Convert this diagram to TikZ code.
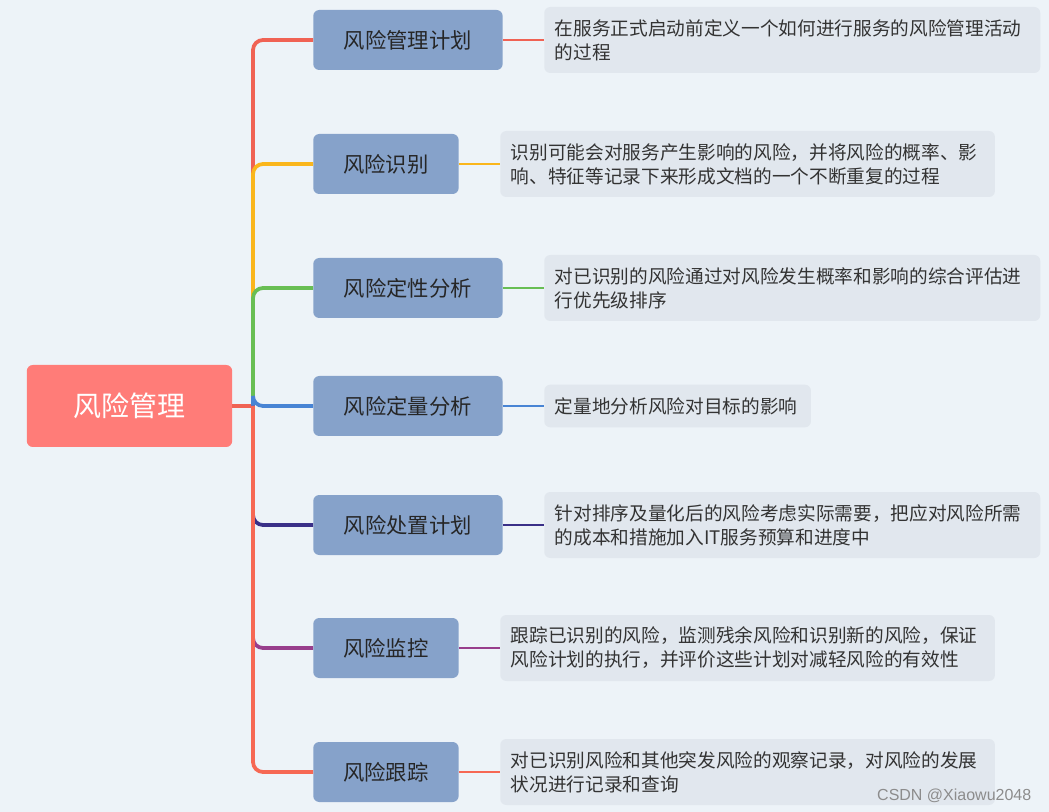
\documentclass[tikz,border=0pt]{standalone}
\usepackage{fontspec}
\setmainfont{Noto Sans CJK SC}
\setsansfont{Liberation Sans}
\usetikzlibrary{positioning}
\definecolor{BgBlue}{RGB}{237,243,248}
\definecolor{RootRed}{RGB}{255,124,120}
\definecolor{BoxBlue}{RGB}{134,162,202}
\definecolor{NoteGray}{RGB}{225,231,238}
\definecolor{LnRed}{RGB}{240,98,84}
\definecolor{LnOrange}{RGB}{250,182,28}
\definecolor{LnGreen}{RGB}{104,190,84}
\definecolor{LnBlue}{RGB}{72,132,212}
\definecolor{LnIndigo}{RGB}{58,48,136}
\definecolor{LnPurple}{RGB}{152,62,140}
\definecolor{LnCoral}{RGB}{246,104,84}

\begin{document}
\begin{tikzpicture}[x=.75pt,y=-.75pt,
topic/.style={rectangle,rounded corners=4.5pt,fill=BoxBlue,text=black!85,minimum height=45pt,anchor=west,font=\fontsize{16}{19}\selectfont},
note/.style={rectangle,rounded corners=4.5pt,fill=NoteGray,text=black!80,anchor=west,inner xsep=8pt,align=left,font=\fontsize{14}{18}\selectfont},
link/.style={line width=2.8pt,rounded corners=7.5pt},
sublink/.style={line width=1.6pt}]
\fill[BgBlue] (0,0) rectangle (1049,812);
\node[rectangle,rounded corners=4.5pt,fill=RootRed,text=white,minimum width=154pt,minimum height=61.5pt,font=\fontsize{21}{24}\selectfont] (root) at (129.5,406){风险管理};
\coordinate (j) at (253,406);
% topics
\node[topic,minimum width=142pt] (b1) at (313,40){风险管理计划};
\node[topic,minimum width=109pt] (b2) at (313,164){风险识别};
\node[topic,minimum width=142pt] (b3) at (313,288){风险定性分析};
\node[topic,minimum width=142pt] (b4) at (313,406){风险定量分析};
\node[topic,minimum width=142pt] (b5) at (313,525){风险处置计划};
\node[topic,minimum width=109pt] (b6) at (313,648){风险监控};
\node[topic,minimum width=109pt] (b7) at (313,772){风险跟踪};
% notes
\node[note,text width=356pt,minimum height=49.5pt] (d1) at (544,40){在服务正式启动前定义一个如何进行服务的风险管理活动\\的过程};
\node[note,text width=355pt,minimum height=49.5pt] (d2) at (500,164){识别可能会对服务产生影响的风险，并将风险的概率、影\\响、特征等记录下来形成文档的一个不断重复的过程};
\node[note,text width=356pt,minimum height=49.5pt] (d3) at (544,288){对已识别的风险通过对风险发生概率和影响的综合评估进\\行优先级排序};
\node[note,text width=184pt,minimum height=32pt] (d4) at (544,406){定量地分析风险对目标的影响};
\node[note,text width=356pt,minimum height=49.5pt] (d5) at (544,525){针对排序及量化后的风险考虑实际需要，把应对风险所需\\的成本和措施加入IT服务预算和进度中};
\node[note,text width=355pt,minimum height=49.5pt] (d6) at (500,648){跟踪已识别的风险，监测残余风险和识别新的风险，保证\\风险计划的执行，并评价这些计划对减轻风险的有效性};
\node[note,text width=355pt,minimum height=49.5pt] (d7) at (500,772){对已识别风险和其他突发风险的观察记录，对风险的发展\\状况进行记录和查询};
% branches
\draw[link,LnRed,line width=2.3pt] (root.east)--(j);
\foreach \i/\c in {1/LnRed,2/LnOrange,3/LnGreen,4/LnBlue,5/LnIndigo,6/LnPurple,7/LnCoral}{
\draw[link,\c] (j) |- (b\i.west);
\draw[sublink,\c] (b\i.east)--(d\i.west);}
\node[font=\sffamily\fontsize{12}{14}\selectfont,text=black!45,anchor=east] (mark) at (1036,796){CSDN @Xiaowu2048};
\end{tikzpicture}
\end{document}
